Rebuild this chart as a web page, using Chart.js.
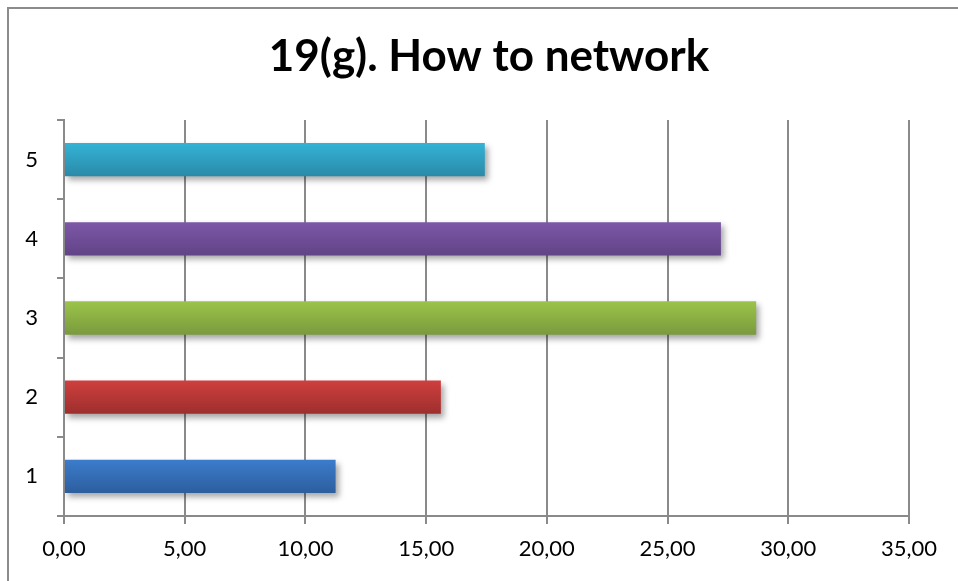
<!DOCTYPE html>
<html>
<head>
<meta charset="utf-8">
<script src="https://cdn.jsdelivr.net/npm/chart.js@4"></script>
<style>
  html, body { margin: 0; padding: 0; background: #fff; }
  #wrap { width: 958px; height: 581px; }
</style>
</head>
<body>
<div id="wrap"><canvas id="networkChart" width="958" height="581"></canvas></div>
<script>
// answers for question 19(g)
const categories = ['1', '2', '3', '4', '5'];
const averages = [11.25, 15.61, 28.67, 27.21, 17.43];
const xTicks = { min: 0, max: 35, step: 5 };
const titleText = '19(g). How to network';

// top / bottom colours of each bar's gradient
const barTops = ['#3b7ccc', '#cf3f3e', '#9bc44a', '#7d58a8', '#34b3d6'];
const barBottoms = ['#2d5e9d', '#9c2f2d', '#7a9a3e', '#614386', '#2a8aa8'];

const gridGrey = '#8a8a8a';
const fontName = 'Lato, "Open Sans", sans-serif';

function barFill(context) {
  const chart = context.chart;
  const i = context.dataIndex;
  if (!chart.chartArea || !chart.scales.y) return barTops[i];
  const yScale = chart.scales.y;
  const mid = yScale.getPixelForValue(i);
  const half = (chart.chartArea.height / categories.length) * 0.42 / 2;
  const g = chart.ctx.createLinearGradient(0, mid - half, 0, mid + half);
  g.addColorStop(0, barTops[i]);
  g.addColorStop(1, barBottoms[i]);
  return g;
}

// soft drop shadow under the bars
const barShadow = {
  id: 'barShadow',
  beforeDatasetsDraw(chart) {
    const ctx = chart.ctx;
    ctx.save();
    ctx.shadowColor = 'rgba(0,0,0,0.35)';
    ctx.shadowBlur = 6;
    ctx.shadowOffsetX = 3;
    ctx.shadowOffsetY = 4;
  },
  afterDatasetsDraw(chart) {
    chart.ctx.restore();
  }
};

// frame lines and the big title
const frameAndTitle = {
  id: 'frameAndTitle',
  beforeDraw(chart) {
    const ctx = chart.ctx;
    ctx.save();
    ctx.strokeStyle = '#8c8c8c';
    ctx.lineWidth = 2;
    ctx.beginPath();
    ctx.moveTo(8, 600);
    ctx.lineTo(8, 8);
    ctx.lineTo(980, 8);
    ctx.stroke();
    ctx.restore();
  },
  afterDraw(chart) {
    const ctx = chart.ctx;
    ctx.save();
    ctx.fillStyle = '#000';
    ctx.font = 'bold 44px ' + fontName;
    ctx.textAlign = 'center';
    ctx.textBaseline = 'alphabetic';
    ctx.fillText(titleText, 489, 71);
    ctx.restore();
  }
};

const ctx = document.getElementById('networkChart').getContext('2d');

new Chart(ctx, {
  type: 'bar',
  data: {
    labels: categories,
    datasets: [{
      data: averages,
      backgroundColor: barFill,
      borderWidth: 0,
      barPercentage: 0.42,
      categoryPercentage: 1
    }]
  },
  plugins: [frameAndTitle, barShadow],
  options: {
    indexAxis: 'y',
    responsive: false,
    animation: false,
    layout: { padding: { top: 120, right: 49, left: 0, bottom: 0 } },
    plugins: {
      legend: { display: false },
      tooltip: { enabled: false }
    },
    scales: {
      x: {
        min: xTicks.min,
        max: xTicks.max,
        afterFit: (scale) => { scale.height = 65; },
        ticks: {
          stepSize: xTicks.step,
          color: '#000',
          padding: 12,
          maxRotation: 0,
          font: { family: fontName, size: 22 },
          callback: (v) => Number(v).toFixed(2).replace('.', ',')
        },
        grid: { color: gridGrey, lineWidth: 2, tickLength: 8 },
        border: { color: gridGrey, width: 2 }
      },
      y: {
        reverse: true,
        afterFit: (scale) => { scale.width = 64; },
        ticks: {
          color: '#000',
          padding: 19,
          font: { family: fontName, size: 22 }
        },
        grid: { drawOnChartArea: false, color: gridGrey, lineWidth: 2, tickLength: 7 },
        border: { color: gridGrey, width: 2 }
      }
    }
  }
});
</script>
</body>
</html>
